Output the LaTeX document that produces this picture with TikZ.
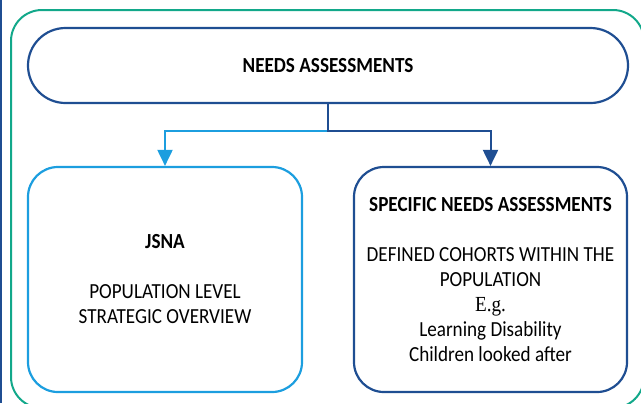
\documentclass[tikz,border=0pt]{standalone}
\usepackage{fontspec}
\setmainfont{Carlito}[FakeStretch=0.89]
\newfontfamily\egfont{Liberation Serif}[FakeStretch=0.89]
\usetikzlibrary{arrows.meta}
\definecolor{dblue}{RGB}{31,78,146}
\definecolor{lblue}{RGB}{28,158,223}
\definecolor{tgreen}{RGB}{18,168,138}
\tikzset{
  box/.style={draw, line width=2.2bp, fill=none, align=center, inner sep=0pt,
    font=\fontsize{21.5bp}{25bp}\selectfont},
  conn/.style={line width=2bp, -{Triangle[width=15bp,length=16bp]}},
}
\begin{document}
\begin{tikzpicture}[x=1bp,y=-1bp]
\useasboundingbox (0,0) rectangle (641,403);
\draw[dblue, line width=1.5bp] (1,0) coordinate (lt) -- (1,403) coordinate (lb);
\draw[tgreen, line width=2bp, rounded corners=31bp] (11,10) rectangle (644,408);
\node[box, draw=dblue, rounded corners=37.5bp, minimum width=600bp, minimum height=75bp]
  (top) at (328,65.5) {\textbf{NEEDS ASSESSMENTS}};
\node[box, draw=lblue, rounded corners=30bp, minimum width=274bp, minimum height=225bp]
  (jsna) at (165,279.5) {\textbf{JSNA}\\[25bp]POPULATION LEVEL\\STRATEGIC OVERVIEW};
\node[box, draw=dblue, rounded corners=30bp, minimum width=273bp, minimum height=225bp]
  (spec) at (490.5,279.5) {\textbf{SPECIFIC NEEDS ASSESSMENTS}\\[25bp]DEFINED COHORTS WITHIN THE\\POPULATION\\{\egfont E.g.}\\Learning Disability\\Children looked after};
\coordinate (split) at (328,131);
\draw[conn, lblue] (split) -| (jsna.north);
\draw[conn, dblue] (top.south) -- (split) -| (spec.north);
\end{tikzpicture}
\end{document}
